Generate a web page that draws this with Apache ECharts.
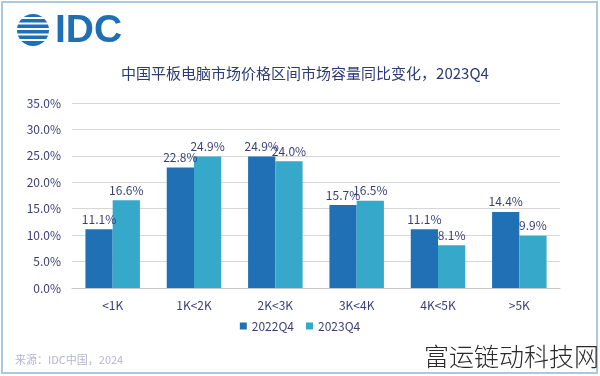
<!DOCTYPE html>
<html>
<head>
<meta charset="utf-8">
<script src="https://cdn.jsdelivr.net/npm/echarts@6/dist/echarts.min.js"></script>
<style>
html,body{margin:0;padding:0;background:#fff;}
#main{width:600px;height:376px;}
</style>
</head>
<body>
<div id="main"></div>
<script>
// 价格区间
var categories = ['<1K', '1K<2K', '2K<3K', '3K<4K', '4K<5K', '>5K'];
var data_2022 = [11.1, 22.8, 24.9, 15.7, 11.1, 14.4];
var data_2023 = [16.6, 24.9, 24.0, 16.5, 8.1, 9.9];
var seriesNames = ['2022Q4', '2023Q4'];

var txtColor = '#3a3f78';
var font = '"Noto Sans CJK SC", "Noto Sans", sans-serif';

var myChart = echarts.init(document.getElementById('main'));

// IDC 地球图标的条纹
var globeBars = [];
var stripes = [-13, -7.5, -2, 3.5, 9];
for (var i = 0; i < stripes.length; i++) {
	globeBars.push({
		type: 'rect',
		shape: { x: -20, y: stripes[i], width: 40, height: 2 },
		style: { fill: '#fff' }
	});
}

var option = {
	backgroundColor: '#fff',
	title: {
		text: '中国平板电脑市场价格区间市场容量同比变化，2023Q4',
		left: 300,
		textAlign: 'center',
		top: 61,
		textStyle: { color: '#2c3a78', fontSize: 15, fontWeight: 'normal', fontFamily: font }
	},
	legend: {
		data: seriesNames,
		bottom: 39,
		left: 'center',
		itemWidth: 7,
		itemHeight: 7,
		itemGap: 12,
		icon: 'rect',
		textStyle: { color: txtColor, fontSize: 12, fontFamily: font }
	},
	grid: {
		left: 72,
		right: 40,
		top: 103,
		bottom: 88,
		containLabel: false
	},
	xAxis: {
		type: 'category',
		data: categories,
		axisLine: { lineStyle: { color: '#c8c8c8' } },
		axisTick: { show: false },
		axisLabel: { color: txtColor, fontSize: 12, margin: 11, fontFamily: font }
	},
	yAxis: {
		type: 'value',
		min: 0,
		max: 35,
		interval: 5,
		axisLine: { show: false },
		axisTick: { show: false },
		splitLine: { lineStyle: { color: '#d6d6d6' } },
		axisLabel: {
			color: txtColor,
			fontSize: 12,
			margin: 11,
			fontFamily: font,
			formatter: function (v) { return v.toFixed(1) + '%'; }
		}
	},
	series: [
		{
			name: seriesNames[0],
			type: 'bar',
			data: data_2022,
			barGap: '0%',
			barCategoryGap: '33%',
			itemStyle: { color: '#2070b6' },
			label: {
				show: true,
				position: 'top',
				distance: 4,
				color: txtColor,
				fontSize: 12,
				fontFamily: font,
				formatter: function (p) { return p.value.toFixed(1) + '%'; }
			}
		},
		{
			name: seriesNames[1],
			type: 'bar',
			data: data_2023,
			itemStyle: { color: '#36a9ca' },
			label: {
				show: true,
				position: 'top',
				distance: 4,
				color: txtColor,
				fontSize: 12,
				fontFamily: font,
				formatter: function (p) { return p.value.toFixed(1) + '%'; }
			}
		}
	],
	graphic: [
		// 外框
		{
			type: 'rect',
			shape: { x: 2, y: 2, width: 595, height: 371 },
			style: { fill: 'none', stroke: '#a9c9e2', lineWidth: 2 },
			silent: true
		},
		// IDC 标志
		{
			type: 'group',
			x: 33,
			y: 30,
			children: [
				{ type: 'circle', shape: { cx: 0, cy: 0, r: 16 }, style: { fill: '#1f6fb5' } }
			].concat(globeBars)
		},
		{
			type: 'text',
			x: 55,
			y: 12,
			style: {
				text: 'IDC',
				fill: '#1f6fb5',
				font: 'bold 39px "Liberation Sans", Arial, sans-serif'
			}
		},
		// 来源
		{
			type: 'text',
			x: 15,
			y: 354,
			style: { text: '来源：IDC中国，2024', fill: '#b4b4d2', font: '11px ' + font }
		},
		// 水印
		{
			type: 'text',
			x: 424,
			y: 344,
			style: { text: '富运链动科技网', fill: '#2a2a2a', font: '300 25px ' + font }
		}
	]
};
myChart.setOption(option);
</script>
</body>
</html>
